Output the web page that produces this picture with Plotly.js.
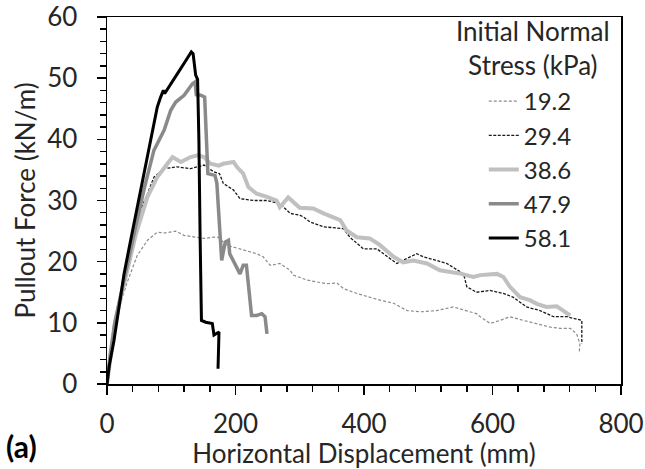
<!DOCTYPE html>
<html>
<head>
<meta charset="utf-8">
<script src="https://cdn.plot.ly/plotly-3.0.1.min.js"></script>
<style>
html,body{margin:0;padding:0;background:#fff;}
#chart{width:645px;height:469px;}
</style>
</head>
<body>
<div id="chart"></div>
<script>
// Series names (initial normal stress, kPa)
var seriesNames = ["19.2", "29.4", "38.6", "47.9", "58.1"];

// 19.2 kPa
var s19_x = [0, 4, 9, 16, 22, 31, 47, 63, 78, 91, 107, 120, 135, 151, 167, 173, 186, 207, 233, 243, 254, 269, 285, 290, 311, 326, 342, 358, 368, 389, 409, 425, 446, 467, 487, 513, 539, 560, 575, 581, 596, 612, 627, 648, 669, 690, 705, 721, 731, 736, 735];
var s19_y = [0, 4, 8, 11, 13.5, 16.5, 21.0, 23.5, 24.8, 24.7, 25.0, 24.3, 24.0, 23.8, 24.0, 24.0, 22.7, 22.1, 21.3, 20.8, 19.4, 19.7, 18.6, 17.8, 17.0, 16.7, 16.4, 16.5, 15.6, 14.8, 14.2, 13.7, 13.2, 12.0, 11.8, 12.0, 12.6, 12.0, 11.5, 11.0, 9.9, 10.4, 11.0, 10.4, 9.9, 9.3, 9.1, 9.1, 8.2, 6.6, 5.0];

// 29.4 kPa
var s29_x = [0, 4, 9, 16, 26, 42, 52, 63, 73, 89, 109, 130, 151, 166, 175, 181, 197, 207, 228, 249, 269, 285, 300, 306, 316, 337, 368, 378, 399, 420, 441, 451, 482, 492, 513, 529, 555, 560, 575, 596, 617, 632, 653, 674, 695, 716, 739, 739];
var s29_y = [0, 4, 8, 11.5, 17, 23, 28.4, 31.1, 33.8, 35.2, 35.5, 35.2, 35.8, 34.7, 34.4, 32.8, 31.7, 30.3, 30.0, 30.0, 29.5, 27.9, 27.6, 27.3, 26.5, 25.7, 25.4, 24.0, 22.1, 22.1, 20.5, 19.7, 21.3, 20.8, 20.2, 19.7, 18.0, 15.9, 15.0, 15.3, 14.8, 14.2, 12.6, 12.0, 11.0, 11.0, 10.4, 6.6];

// 38.6 kPa
var s38_x = [0, 5, 12, 20, 31, 45, 63, 78, 94, 102, 115, 130, 141, 151, 161, 174, 181, 197, 202, 212, 220, 233, 249, 264, 269, 282, 300, 321, 337, 363, 373, 389, 409, 425, 446, 461, 477, 498, 518, 539, 552, 570, 581, 607, 617, 627, 643, 658, 669, 684, 700, 710, 721];
var s38_y = [0, 4.5, 9.5, 13.5, 18.5, 24.5, 30.6, 33.8, 36.0, 37.1, 36.3, 37.1, 37.4, 37.1, 36.0, 35.7, 36.0, 36.3, 35.5, 34.4, 32.2, 31.1, 30.6, 30.0, 28.9, 30.5, 28.8, 28.7, 27.9, 26.8, 25.1, 24.0, 23.8, 22.7, 20.8, 19.9, 20.2, 19.7, 18.6, 18.3, 18.0, 17.5, 17.8, 18.0, 17.5, 15.9, 14.2, 13.7, 13.1, 12.6, 12.7, 12.0, 11.2];

// 47.9 kPa
var s47_x = [0, 5, 12, 20, 31, 43, 58, 73, 89, 99, 107, 120, 133, 137, 139, 146, 152, 155, 157, 168, 171, 178.5, 184, 189, 191, 207, 212, 217, 225, 233, 241, 246, 249];
var s47_y = [0, 4.8, 10, 14, 19, 25, 32, 38.2, 41.5, 44.7, 46.1, 47.2, 49.1, 49.4, 47.3, 47.2, 46.9, 37.0, 34.4, 34.1, 32.8, 20.2, 23.2, 23.5, 21.3, 18.0, 19.4, 19.4, 11.2, 11.2, 11.5, 11.0, 8.2];

// 58.1 kPa
var s58_x = [0, 3.5, 10.9, 18.7, 26.5, 36.8, 47.2, 57.6, 68, 78.3, 83.5, 87.7, 89.8, 99.1, 109.4, 119.8, 127.6, 131.2, 134, 138, 141, 143, 145, 147, 153.6, 163.9, 166.5, 170.7, 174.3, 172.8];
var s58_y = [0, 3, 7.1, 12.6, 18.0, 23.5, 28.9, 34.4, 39.8, 45.3, 46.9, 48.0, 47.5, 49.1, 50.7, 52.4, 53.7, 54.3, 54.0, 50.5, 49.8, 40.0, 23.5, 10.4, 10.1, 9.9, 8.0, 8.3, 8.5, 2.5];

var FONT = "Lato, 'Open Sans', sans-serif";
var TXT = "#262626";

var traces = [
  {x: s19_x, y: s19_y, name: seriesNames[0], mode: "lines",
   line: {color: "#8c8c8c", width: 1.2, dash: "3px,2px"}},
  {x: s29_x, y: s29_y, name: seriesNames[1], mode: "lines",
   line: {color: "#1a1a1a", width: 1.3, dash: "3px,1.5px"}},
  {x: s38_x, y: s38_y, name: seriesNames[2], mode: "lines",
   line: {color: "#c0c0c0", width: 4}},
  {x: s47_x, y: s47_y, name: seriesNames[3], mode: "lines",
   line: {color: "#8a8a8a", width: 3.5}},
  {x: s58_x, y: s58_y, name: seriesNames[4], mode: "lines",
   line: {color: "#000000", width: 3}}
];

var layout = {
  width: 645, height: 469,
  margin: {l: 107, r: 24, t: 17, b: 85.3},
  paper_bgcolor: "#ffffff", plot_bgcolor: "#ffffff",
  font: {family: FONT, size: 26, color: TXT},
  showlegend: true,
  legend: {
    x: 0.733, xanchor: "left", y: 0.831, yanchor: "top",
    bgcolor: "rgba(0,0,0,0)", borderwidth: 0,
    font: {family: FONT, size: 24, color: TXT},
    itemwidth: 30, tracegroupgap: 0
  },
  xaxis: {
    range: [0, 800], dtick: 200, tick0: 0,
    showgrid: false, zeroline: false,
    showline: true, linecolor: "#000", linewidth: 1.5, mirror: true,
    ticks: "outside", ticklen: 9, tickwidth: 1.5, tickcolor: "#000",
    ticklabelstandoff: 7,
    minor: {dtick: 40, ticks: "outside", ticklen: 6, tickwidth: 1.5, tickcolor: "#000", showgrid: false},
    tickfont: {family: FONT, size: 26, color: TXT},
    title: {text: "Horizontal Displacement (mm)", font: {family: FONT, size: 26, color: TXT}, standoff: 2}
  },
  yaxis: {
    range: [0, 60], dtick: 10, tick0: 0,
    showgrid: false, zeroline: false,
    showline: true, linecolor: "#000", linewidth: 1.5, mirror: true,
    ticks: "outside", ticklen: 9, tickwidth: 1.5, tickcolor: "#000",
    ticklabelstandoff: 14,
    minor: {dtick: 2, ticks: "outside", ticklen: 6, tickwidth: 1.5, tickcolor: "#000", showgrid: false},
    tickfont: {family: FONT, size: 26, color: TXT},
    title: {text: "Pullout Force (kN/m)", font: {family: FONT, size: 26, color: TXT}, standoff: 4}
  },
  annotations: [
    {text: "Initial Normal<br>Stress (kPa)", xref: "paper", yref: "paper",
     x: 0.829, y: 1.01, xanchor: "center", yanchor: "top", align: "center",
     showarrow: false, font: {family: FONT, size: 26, color: TXT}},
    {text: "<b>(a)</b>", xref: "paper", yref: "paper",
     x: -0.2, y: -0.115, xanchor: "left", yanchor: "top",
     showarrow: false, font: {family: FONT, size: 30, color: "#000"}}
  ]
};

Plotly.newPlot("chart", traces, layout, {displayModeBar: false, staticPlot: true});
</script>
</body>
</html>
